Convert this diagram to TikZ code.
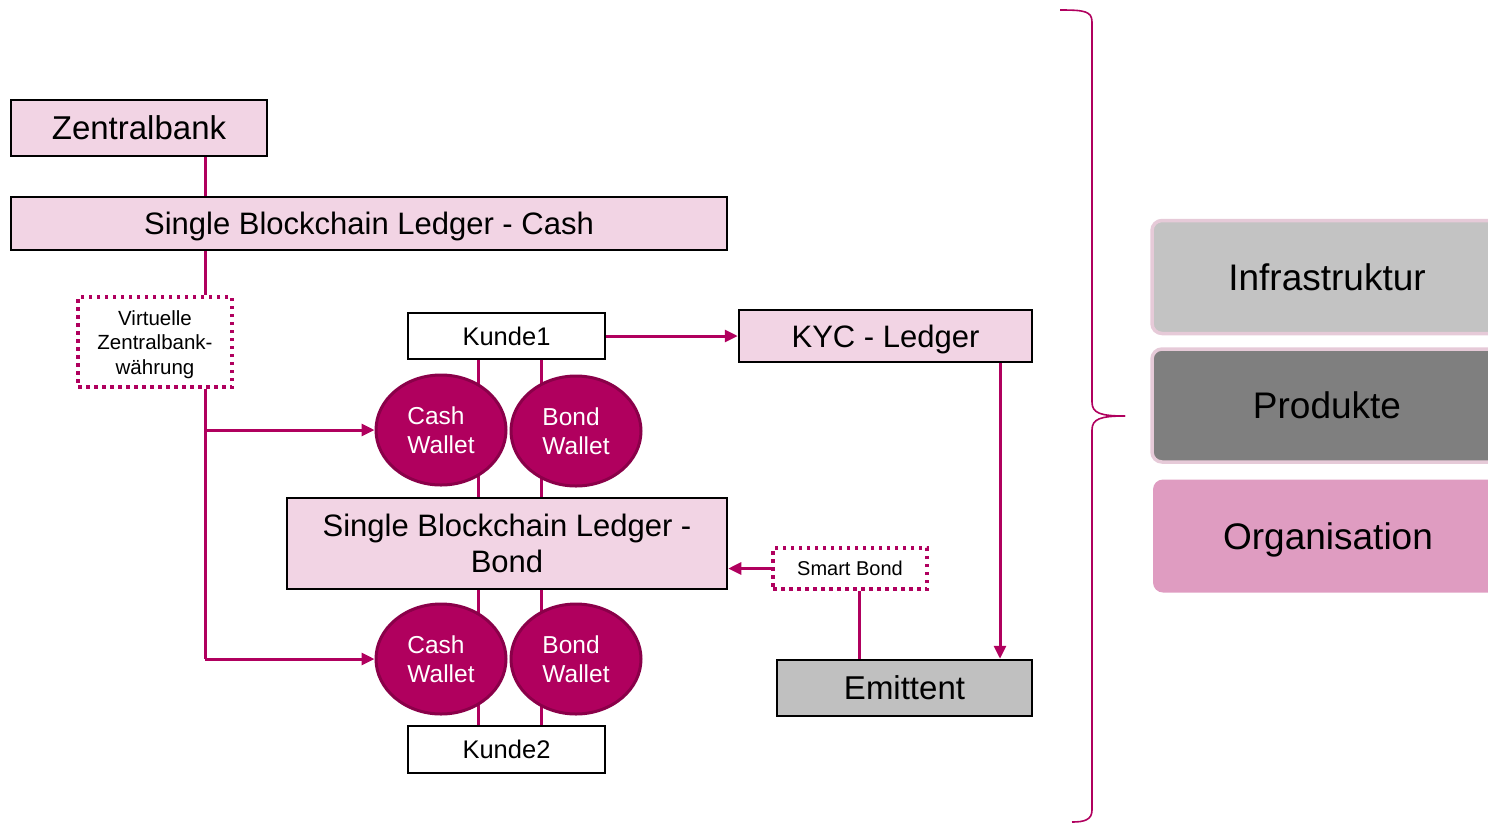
\documentclass[tikz,border=0pt]{standalone}
\usepackage{fontspec}
\setmainfont{Liberation Sans}
\usetikzlibrary{arrows.meta,shapes.geometric,backgrounds}
\definecolor{mag}{HTML}{B0005E}
\definecolor{magdark}{HTML}{8A0049}
\definecolor{lpink}{HTML}{F2D4E4}
\definecolor{emgray}{HTML}{C0C0C0}
\definecolor{infra}{HTML}{C3C3C3}
\definecolor{prod}{HTML}{7F7F7F}
\definecolor{orga}{HTML}{DF9CC1}
\definecolor{rimpink}{HTML}{E6CAD8}
\tikzset{
  boxstyle/.style={draw=black, line width=2.5pt, rectangle, inner sep=0pt, font=\fontsize{31}{36}\selectfont},
  pinkbox/.style={boxstyle, fill=lpink},
  whitebox/.style={draw=black, line width=2.5pt, rectangle, inner sep=0pt, fill=white, font=\fontsize{25.5}{28}\selectfont},
  dotbox/.style={draw=mag, line width=3.5pt, dash pattern=on 3.5pt off 4.5pt, rectangle, inner sep=0pt, fill=white, align=center, font=\fontsize{20.5}{24.5}\selectfont},
  wallet/.style={ellipse, draw=magdark, line width=3pt, fill=mag, text=white, minimum width=130pt, minimum height=110pt, inner sep=0pt, align=left, font=\fontsize{24.5}{28.5}\selectfont},
  conn/.style={draw=mag, line width=3pt},
  arr/.style={conn, -{Triangle[length=13pt,width=12pt]}},
  sidebox/.style={rectangle, rounded corners=10pt, inner sep=0pt, minimum width=350pt, minimum height=113pt, font=\fontsize{37}{40}\selectfont},
}
\begin{document}
\begin{tikzpicture}[x=1pt,y=-1pt]
\clip (0,0) rectangle (1488,823);
% nodes
\node[pinkbox, minimum width=256pt, minimum height=56pt, font=\fontsize{33}{36}\selectfont] (zb) at (139,128) {Zentralbank};
\node[pinkbox, minimum width=716pt, minimum height=53pt, text depth=0pt] (sblc) at (369,223.5) {Single Blockchain Ledger - Cash};
\node[dotbox, minimum width=154pt, minimum height=90pt] (vz) at (155,342) {\rule{0pt}{20pt}Virtuelle\\Zentralbank-\\währung};
\node[whitebox, minimum width=197pt, minimum height=46pt] (k1) at (506.5,336) {Kunde1};
\node[pinkbox, minimum width=293pt, minimum height=52pt, text depth=0pt] (kyc) at (885.5,336) {KYC - Ledger};
\node[pinkbox, minimum width=440pt, minimum height=91pt, align=center] (sblb) at (507,543.5) {Single Blockchain Ledger -\\Bond};
\node[dotbox, minimum width=154pt, minimum height=41pt, font=\fontsize{20}{24}\selectfont] (sb) at (850,568.5) {Smart Bond};
\node[boxstyle, fill=emgray, minimum width=255pt, minimum height=56pt, font=\fontsize{33}{36}\selectfont] (em) at (904.5,688) {Emittent};
\node[whitebox, minimum width=197pt, minimum height=47pt] (k2) at (506.5,749.5) {Kunde2};
\node[wallet] (cw1) at (441,430) {Cash\\Wallet};
\node[wallet] (bw1) at (576,431) {Bond\\Wallet};
\node[wallet] (cw2) at (441,659) {Cash\\Wallet};
\node[wallet] (bw2) at (576,659) {Bond\\Wallet};
% helper x positions
\coordinate (xa) at (205,0);
\coordinate (xc) at (478,0);
\coordinate (xb) at (541,0);
\coordinate (xk) at (1000,0);
\coordinate (xs) at (859,0);
\begin{pgfonlayer}{background}
\draw[conn] (xc |- k1.south) -- (xc |- sblb.north);
\draw[conn] (xb |- k1.south) -- (xb |- sblb.north);
\draw[conn] (xc |- sblb.south) -- (xc |- k2.north);
\draw[conn] (xb |- sblb.south) -- (xb |- k2.north);
\end{pgfonlayer}
% connectors
\draw[conn] (xa |- zb.south) -- (xa |- sblc.north);
\draw[conn] (xa |- sblc.south) -- (xa |- vz.north);
\draw[conn] (xa |- vz.south) -- (xa |- cw2.west);
\draw[arr] (xa |- cw1.west) -- (cw1.west);
\draw[arr] (xa |- cw2.west) -- (cw2.west);
\draw[arr] (k1.east) -- (kyc.west);
\draw[arr] (xk |- kyc.south) -- (xk |- em.north);
\draw[arr] (sb.west) -- (sblb.east |- sb.west);
\draw[conn] (xs |- sb.south) -- (xs |- em.north);
% brace
\draw[mag, line width=1.6pt] (1060,10) .. controls (1084,10) and (1092,11) .. (1092,22) -- (1092,402) .. controls (1092,413) and (1100,416) .. (1125,416);
\draw[mag, line width=1.6pt] (1125,416) .. controls (1100,416) and (1092,419) .. (1092,430) -- (1092,810) .. controls (1092,820) and (1084,822) .. (1072,822);
% side boxes
\node[sidebox, fill=infra, draw=rimpink, line width=3.5pt] (inf) at (1327,277) {Infrastruktur};
\node[sidebox, fill=prod, draw=rimpink, line width=3.5pt] (pro) at (1327,405.5) {Produkte};
\node[sidebox, fill=orga, text depth=0pt] (org) at (1328,536) {Organisation};
\end{tikzpicture}
\end{document}
